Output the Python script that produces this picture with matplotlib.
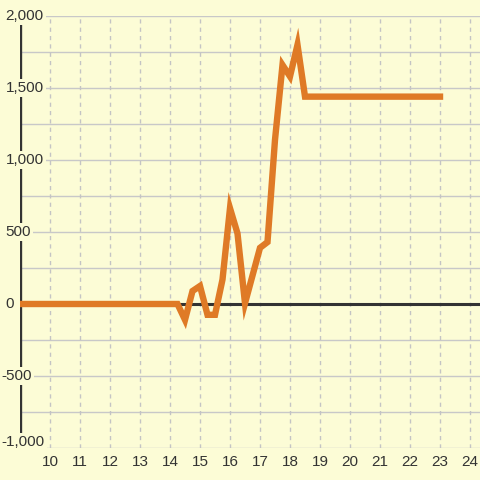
import matplotlib
matplotlib.use("Agg")
import matplotlib.pyplot as plt
import matplotlib.transforms as mtransforms

# hour of day vs value
hours = [9, 14.25, 14.5, 14.75, 15, 15.25, 15.5, 15.75, 16, 16.25, 16.5,
         17, 17.25, 17.5, 17.75, 18, 18.25, 18.5, 23]
values = [0, 0, -110, 90, 125, -75, -75, 170, 665, 490, 5,
          390, 430, 1140, 1660, 1580, 1800, 1440, 1440]

x_ticks = list(range(10, 25))
y_ticks = [-1000, -500, 0, 500, 1000, 1500, 2000]
y_labels = ["-1,000", "-500", "0", "500", "1,000", "1,500", "2,000"]

BG = "#FCFCD6"
DARK = "#333333"
ORANGE = "#DF7A26"

plt.rcParams["font.family"] = ["Liberation Sans", "DejaVu Sans"]

fig = plt.figure(figsize=(4.8, 4.8), dpi=100, facecolor=BG)
ax = fig.add_axes([20 / 480, 32 / 480, 460 / 480, 432 / 480])
ax.set_facecolor(BG)
ax.set_xlim(9, 9 + 460 / 30)
ax.set_ylim(-1000, 2000)

# grid
for y in range(-1000, 2001, 250):
    ax.axhline(y, color="#C8C8C8", lw=1, zorder=1)
for x in x_ticks:
    ax.axvline(x, color="#C4C4C4", lw=1, ls=(0, (3, 3)), zorder=1)

# zero line and axis
ax.axhline(0, color=DARK, lw=2.2, zorder=2)
ax.axvline(9, color=DARK, lw=2.4, zorder=2)

ax.plot(hours, values, color=ORANGE, lw=4.6, solid_capstyle="projecting",
        solid_joinstyle="miter", zorder=3)

for s in ax.spines.values():
    s.set_visible(False)

ax.set_xticks(x_ticks)
ax.set_xticklabels([str(x) for x in x_ticks])
ax.tick_params(axis="x", length=0, pad=5, labelsize=11, colors=DARK)
ax.set_yticks([])

trans = mtransforms.blended_transform_factory(fig.transFigure, ax.transData)
for y, lab in zip(y_ticks, y_labels):
    ypos = y + 40 if y == -1000 else y
    xpos = 1.5 if lab.startswith("-") else 5.5
    ax.text(xpos / 480, ypos, lab, transform=trans, ha="left", va="center",
            fontsize=11, color=DARK, zorder=5, clip_on=False,
            bbox=dict(boxstyle="square,pad=0.15", fc=BG, ec="none"))

fig.savefig("out.png", dpi=100, facecolor=BG)
